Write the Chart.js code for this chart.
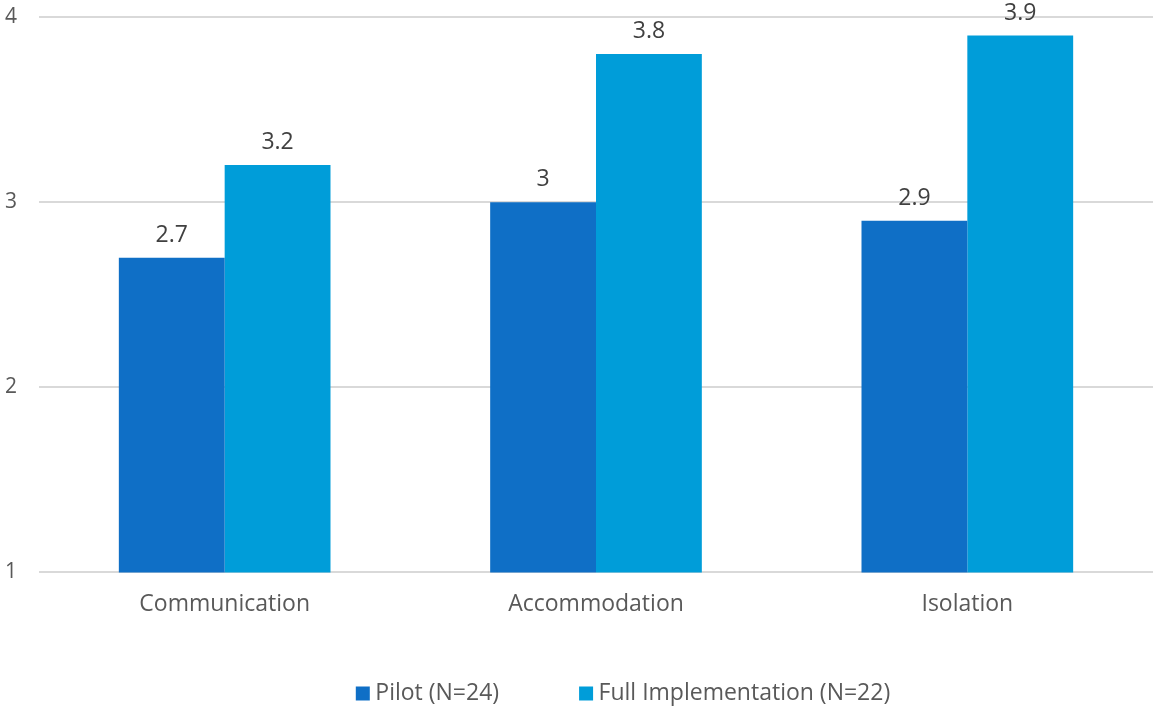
<!DOCTYPE html>
<html>
<head>
<meta charset="utf-8">
<script src="https://cdn.jsdelivr.net/npm/chart.js@4.4.1/dist/chart.umd.min.js"></script>
<style>
  html, body { margin: 0; padding: 0; background: #fff; }
  #wrap { width: 1153px; height: 707px; position: relative; }
</style>
</head>
<body>
<div id="wrap"><canvas id="chart"></canvas></div>
<script>
const categories = ['Communication', 'Accommodation', 'Isolation'];
const pilotValues = [2.7, 3, 2.9];
const fullValues = [3.2, 3.8, 3.9];
const seriesLabels = ['Pilot (N=24)', 'Full Implementation (N=22)'];
const yTicks = [1, 2, 3, 4];

const FONT = "'Open Sans', sans-serif";
const TEXT = '#595959';

// draws the value above each bar
const valueLabels = {
    id: 'valueLabels',
    afterDatasetsDraw(chart) {
        const ctx = chart.ctx;
        ctx.save();
        ctx.font = '23px ' + FONT;
        ctx.fillStyle = '#404040';
        ctx.textAlign = 'center';
        ctx.textBaseline = 'bottom';
        chart.data.datasets.forEach((ds, i) => {
            chart.getDatasetMeta(i).data.forEach((bar, j) => {
                ctx.fillText(String(ds.data[j]), bar.x, bar.y - 11);
            });
        });
        ctx.restore();
    }
};

// legend: wide gap between items, but give the spare height back to the plot
// and nudge it right like the original
const LEGEND_SHRINK = 32;
const LEGEND_SHIFT = 47;
const legendTweak = {
    id: 'legendTweak',
    afterInit(chart) {
        const lg = chart.legend;
        const fit = lg.fit;
        lg.fit = function () {
            fit.call(this);
            this.height -= LEGEND_SHRINK;
        };
    },
    afterLayout(chart) {
        const lg = chart.legend;
        lg.top -= LEGEND_SHRINK;
        lg.height += LEGEND_SHRINK;
        lg.left += LEGEND_SHIFT;
        lg.right += LEGEND_SHIFT;
    }
};

new Chart(document.getElementById('chart').getContext('2d'), {
    type: 'bar',
    data: {
        labels: categories,
        datasets: [{
            label: seriesLabels[0],
            data: pilotValues,
            backgroundColor: '#0F6FC6',
            categoryPercentage: 0.57,
            barPercentage: 1
        }, {
            label: seriesLabels[1],
            data: fullValues,
            backgroundColor: '#009DD9',
            categoryPercentage: 0.57,
            barPercentage: 1
        }]
    },
    options: {
        responsive: true,
        maintainAspectRatio: false,
        animation: false,
        layout: { padding: { left: 5, right: 0, top: 17, bottom: -8 } },
        plugins: {
            legend: {
                position: 'bottom',
                labels: {
                    font: { family: FONT, size: 23 },
                    color: TEXT,
                    usePointStyle: true,
                    pointStyle: 'rect',
                    boxWidth: 2,
                    boxHeight: 14,
                    padding: 86
                }
            },
            tooltip: { enabled: false }
        },
        scales: {
            x: {
                grid: { display: false },
                border: { display: false },
                ticks: { font: { family: FONT, size: 23 }, color: TEXT, padding: 10 }
            },
            y: {
                min: yTicks[0],
                max: yTicks[yTicks.length - 1],
                afterBuildTicks: axis => { axis.ticks = yTicks.map(v => ({ value: v })); },
                afterFit: axis => { axis.width = 34; },
                grid: { color: '#D9D9D9', lineWidth: 2, drawTicks: false },
                border: { display: false },
                ticks: { font: { family: FONT, size: 21 }, color: TEXT, padding: 0, crossAlign: 'far' }
            }
        }
    },
    plugins: [valueLabels, legendTweak]
});
</script>
</body>
</html>
